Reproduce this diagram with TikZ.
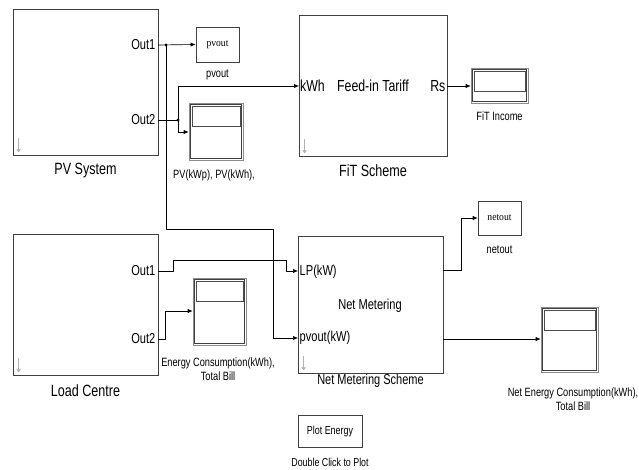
\documentclass[tikz,border=0pt]{standalone}
\usepackage{fontspec}
\setmainfont{Liberation Sans}[FakeStretch=0.77]
\newfontfamily\serifbox{Liberation Serif}[FakeStretch=0.92]
\usetikzlibrary{arrows.meta,shadows}
\tikzset{
  sub/.style={draw=black!75, line width=0.7pt, fill=white, rectangle, inner sep=0pt,
    drop shadow={shadow xshift=1.2pt, shadow yshift=-1.2pt, opacity=0.45}},
  smallbox/.style={draw=black!75, line width=0.6pt, fill=white, rectangle, inner sep=0pt,
    drop shadow={shadow xshift=1pt, shadow yshift=-1pt, opacity=0.45}},
  scopebox/.style={draw=black!45, line width=0.6pt, fill=white, rectangle, inner sep=0pt,
    drop shadow={shadow xshift=1pt, shadow yshift=-1pt, opacity=0.45},
    path picture={
      \draw[black!75, line width=0.5pt] ([shift={(1.6pt,-1.6pt)}]path picture bounding box.north west) rectangle ([shift={(-1.6pt,1.6pt)}]path picture bounding box.south east);
      \draw[black!70, line width=0.5pt] ([shift={(3.2pt,-3.2pt)}]path picture bounding box.north west) rectangle ([shift={(-3.2pt,-23.5pt)}]path picture bounding box.north east);
    }},
  wire/.style={line width=0.65pt, black},
  arr/.style={wire, -{Latex[length=5pt,width=4.2pt]}},
  jdot/.style={circle, fill=black, inner sep=0pt, minimum size=3.4pt},
  port/.style={font=\fontsize{14.4}{15}\selectfont, inner sep=0pt},
  bigport/.style={font=\fontsize{16}{16}\selectfont, inner sep=0pt},
  title/.style={font=\fontsize{16.3}{17}\selectfont, inner sep=0pt},
  captext/.style={font=\fontsize{12}{13.5}\selectfont, inner sep=0pt, align=center},
  icon/.style={black!30, line width=1pt},
}
\begin{document}
\begin{tikzpicture}[x=1pt,y=-1pt]
\useasboundingbox (0,0) rectangle (639,470);

% subsystem blocks
\node[sub, minimum width=145pt, minimum height=146pt] (pv) at (85.5,82) {};
\node[sub, minimum width=148pt, minimum height=141pt] (fit) at (373,85.5) {};
\node[sub, minimum width=145pt, minimum height=141pt] (load) at (85.5,304.5) {};
\node[sub, minimum width=145pt, minimum height=137pt] (net) at (370.5,304.5) {};

% small blocks
\node[smallbox, minimum width=43pt, minimum height=35pt, font=\serifbox\fontsize{10.5}{11}\selectfont] (pvout) at (217.5,44.5) {pvout};
\node[smallbox, minimum width=43pt, minimum height=34pt, font=\serifbox\fontsize{10.5}{11}\selectfont] (netout) at (499.5,218) {netout};
\node[smallbox, minimum width=64pt, minimum height=32pt, font=\fontsize{11.6}{12}\selectfont] (plot) at (330,431) {Plot Energy};

% scopes
\node[scopebox, minimum width=54pt, minimum height=57pt] (sc1) at (216,131.5) {};
\node[scopebox, minimum width=57pt, minimum height=35pt] (sc2) at (499.5,85.5) {};
\node[scopebox, minimum width=53pt, minimum height=67pt] (sc3) at (219.5,311.5) {};
\node[scopebox, minimum width=57pt, minimum height=65pt] (sc4) at (569.5,339.5) {};

% icons
\foreach \b in {pv,fit,load,net}{
  \draw[icon, -{Triangle[length=3pt,width=4.5pt]}] ([shift={(6pt,17pt)}]\b.south west) -- ([shift={(6pt,3pt)}]\b.south west);
}

% port labels
\node[port, anchor=east] (pvo1t) at (155.5,45) {Out1};
\node[port, anchor=east] (pvo2t) at (155.5,120) {Out2};
\node[bigport, anchor=west] (kwht) at (300,86) {kWh};
\node[bigport, anchor=center] (fitt) at (373,86) {Feed-in Tariff};
\node[bigport, anchor=east] (rst) at (445.5,86) {Rs};
\node[port, anchor=east] (lo1t) at (155.5,271) {Out1};
\node[port, anchor=east] (lo2t) at (155.5,339) {Out2};
\node[port, anchor=west] (lpt) at (299.5,272) {LP(kW)};
\node[port, anchor=center] (nmt) at (370,306) {Net Metering};
\node[port, anchor=west] (pvkt) at (299.5,338) {pvout(kW)};

% captions
\node[title] (pvcap) at (85.5,171) {PV System};
\node[title] (fitcap) at (373,171) {FiT Scheme};
\node[title] (loadcap) at (85.5,391) {Load Centre};
\node[title, font=\fontsize{14.3}{15}\selectfont] (netcap) at (370.5,381) {Net Metering Scheme};
\node[captext] (pvoutcap) at (217.5,75) {pvout};
\node[captext] (sc1cap) at (214,175) {PV(kWp), PV(kWh),};
\node[captext] (sc2cap) at (499.5,116) {FiT Income};
\node[captext] (sc3cap) at (218,369) {Energy Consumption(kWh),\\Total Bill};
\node[captext] (netoutcap) at (499.5,250) {netout};
\node[captext] (sc4cap) at (573,399) {Net Energy Consumption(kWh),\\Total Bill};
\node[captext, font=\fontsize{11.5}{12}\selectfont] (plotcap) at (330,462) {Double Click to Plot};

% port coordinates
\coordinate (pvo1) at (158,45);
\coordinate (pvo2) at (158,120);
\coordinate (kwh) at (299,86);
\coordinate (rs) at (447,86);
\coordinate (lo1) at (158,271);
\coordinate (lo2) at (158,339);
\coordinate (lp) at (298,271);
\coordinate (pvk) at (298,338);
\coordinate (no1) at (443,270);
\coordinate (no2) at (443,339);

% junctions
\node[jdot] (j1) at (166,45) {};
\node[jdot] (j2) at (178,120) {};

% wires
\draw[arr] (pvo1) -- (pvout.west);
\draw[arr] (j1.center) -- (166,229) -- (273,229) -- (273,338) -- (pvk);
\draw[wire] (pvo2) -- (j2.center);
\draw[arr] (j2.center) -- (178,132) -- (sc1.west |- 0,132);
\draw[arr] (j2.center) -- (178,86) -- (kwh);
\draw[arr] (rs) -- (sc2.west |- rs);
\draw[arr] (lo1) -- (173,271) -- (173,260) -- (286,260) -- (286,271) -- (lp);
\draw[arr] (lo2) -- (165,339) -- (165,311) -- (sc3.west |- 0,311);
\draw[arr] (no1) -- (461,270) -- (461,218) -- (netout.west);
\draw[arr] (no2) -- (sc4.west |- no2);
\end{tikzpicture}
\end{document}
